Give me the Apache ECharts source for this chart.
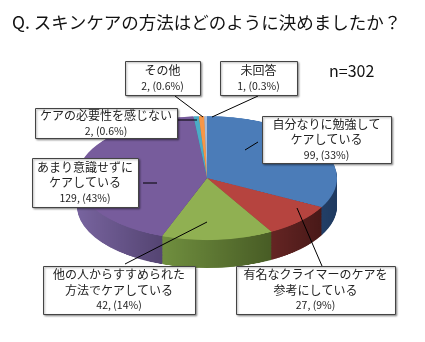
<!DOCTYPE html>
<html>
<head>
<meta charset="utf-8">
<script src="https://cdn.jsdelivr.net/npm/echarts@6/dist/echarts.min.js"></script>
<style>
html,body{margin:0;padding:0;background:#fff;width:425px;height:342px;overflow:hidden;}
#pie{position:absolute;left:0;top:0;width:425px;height:640px;transform:scaleY(0.477);transform-origin:0 0;}
#main{position:absolute;left:0;top:0;width:425px;height:342px;}
</style>
</head>
<body>
<div id="pie"></div>
<div id="main"></div>
<script>
// ---- data ----
const categories = ['自分なりに勉強して\nケアしている', '有名なクライマーのケアを\n参考にしている', '他の人からすすめられた\n方法でケアしている', 'あまり意識せずに\nケアしている', 'ケアの必要性を感じない', 'その他', '未回答'];
const values = [99, 27, 42, 129, 2, 2, 1];
const percentLabels = ['33%', '9%', '14%', '43%', '0.6%', '0.6%', '0.3%'];
const totalLabel = 'n=302';
const titleText = 'Q. スキンケアの方法はどのように決めましたか？';

// ---- styles / layout ----
const topColors = ['#4B7CB8', '#B6443F', '#90B052', '#775C9C', '#4BACC6', '#F79646', '#A9BCD6'];
const sideStops = [
  ['#3D649A', '#1F3A60'],
  ['#8A3432', '#481918'],
  ['#708F3F', '#485C25'],
  ['#78649F', '#42345B'],
  ['#3A8EA5', '#2A6F82'],
  ['#D07A36', '#A85F25'],
  ['#8C9DB6', '#6C7C94']
];
const sideColors = sideStops.map(s => ({type: 'linear', x: 0, y: 0, x2: 1, y2: 0,
  colorStops: [{offset: 0, color: s[0]}, {offset: 1, color: s[1]}]}));
const K = 0.477;            // vertical squash of the pie layer
const CX = 207, CY = 178 / K, R = 130, DEPTH = 28 / K;
const FONT = '"Noto Sans CJK JP", "Noto Sans", sans-serif';

const pieChart = echarts.init(document.getElementById('pie'), null, {renderer: 'canvas'});
const pieData = (cols) => values.map((v, i) => ({name: categories[i], value: v, itemStyle: {color: cols[i]}}));
const series = [];
const STEPS = 40;
for (let s = STEPS; s >= 1; s--) {
  series.push({
    type: 'pie', silent: true, animation: false,
    center: [CX, CY + DEPTH * s / STEPS], radius: R,
    startAngle: 90, clockwise: true,
    label: {show: false}, labelLine: {show: false},
    itemStyle: {borderWidth: 0},
    data: pieData(sideColors)
  });
}
series.push({
  type: 'pie', silent: true, animation: false,
  center: [CX, CY], radius: R, startAngle: 90, clockwise: true,
  label: {show: false}, labelLine: {show: false},
  itemStyle: {borderWidth: 0},
  data: pieData(topColors)
});
pieChart.setOption({animation: false, series});

// ---- annotation layer ----
const boxes = [
  [262, 116, 129, 47],
  [236, 266, 159, 48],
  [43, 266, 152, 48],
  [32, 158, 106, 49],
  [35, 108, 142, 30],
  [125, 61, 75, 34],
  [220, 61, 77, 34]
];
const leaders = [
  [258, 142, 245, 150],
  [322, 266, 297, 208],
  [125, 264, 207, 222],
  [143, 183, 157, 183],
  [177, 120, 197, 120],
  [175, 96, 203, 117],
  [258, 96, 212, 117]
];
const graphic = [];
graphic.push({type: 'text', left: 12, top: 14, style: {text: titleText, font: '17.5px ' + FONT, fill: '#111'}});
graphic.push({type: 'text', left: 329, top: 63, style: {text: totalLabel, font: '16px ' + FONT, fill: '#111'}});
leaders.forEach(l => graphic.push({type: 'line', shape: {x1: l[0], y1: l[1], x2: l[2], y2: l[3]}, style: {stroke: '#000', lineWidth: 1}, z: 10}));
boxes.forEach((b, i) => {
  graphic.push({type: 'rect', shape: {x: b[0] + 0.5, y: b[1] + 0.5, width: b[2], height: b[3]},
    style: {fill: '#fff', stroke: '#444', lineWidth: 1, shadowBlur: 2, shadowOffsetX: 1, shadowOffsetY: 1, shadowColor: 'rgba(0,0,0,0.35)'}, z: 20});
  const lines = categories[i].split('\n').map(t => ({t, f: '12px ' + FONT}));
  lines.push({t: values[i] + ', (' + percentLabels[i] + ')', f: '10.5px ' + FONT});
  const step = 15.5;
  const y0 = b[1] + (b[3] - (lines.length - 1) * step) / 2;
  lines.forEach((ln, j) => graphic.push({type: 'text', z: 21,
    style: {text: ln.t, x: b[0] + b[2] / 2, y: y0 + j * step, align: 'center', verticalAlign: 'middle', font: ln.f, fill: '#222'}}));
});
const chart = echarts.init(document.getElementById('main'), null, {renderer: 'canvas'});
chart.setOption({animation: false, backgroundColor: 'transparent', graphic});
</script>
</body>
</html>
